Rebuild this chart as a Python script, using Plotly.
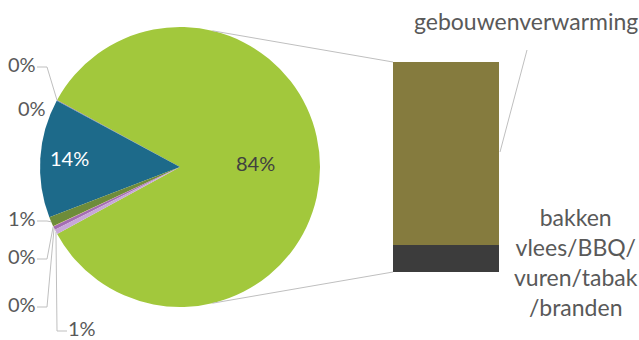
import math
import plotly.graph_objects as go

W, H = 639, 340

# ---- data ----
pie_labels = ["Overig", "bron A", "bron B", "bron C", "bron D", "bron E", "bron F", "bron G"]
small_values = [0.05, 0.05, 13.7, 1.1, 0.05, 0.4, 0.55]          # % of total
bar_labels = ["bakken vlees/BBQ/vuren/tabak/branden", "gebouwenverwarming"]
bar_values = [10.9, 73.2]                                        # parts of "Overig"
bar_text = ["bakken<br>vlees/BBQ/<br>vuren/tabak<br>/branden", "gebouwenverwarming"]

other = sum(bar_values)
pie_values = [other] + small_values
total = sum(pie_values)

pie_colors = ["#A2C83C", "#E07B39", "#4472C4", "#1D6A8A", "#6E8C3A",
              "#F0C040", "#A46CB2", "#C8A8D8"]
bar_colors = ["#3C3C3C", "#857B3E"]

# ---- layout constants (pixels) ----
CX, CY, R = 180, 167, 140
BAR_X0, BAR_X1, BAR_Y0, BAR_Y1 = 393, 499, 62, 272
TXT = "#595959"
LINE = "#BFBFBF"
FONT = "Lato"

def px(x):
    return x / W

def py(y):
    return 1 - y / H

spans = [360 * v / total for v in pie_values]
# the "Overig" slice (first) is centred towards the bar (3 o'clock)
rotation = 90 - spans[0] / 2

# slice mid angles (compass, clockwise from 12 o'clock)
mids = [rotation + spans[0] / 2]
a = rotation
for s in spans[1:]:
    mids.append(a - s / 2)
    a -= s

def edge(theta, f=1.0):
    t = math.radians(theta)
    return CX + f * R * math.sin(t), CY - f * R * math.cos(t)

pct = [f"{round(v / total * 100)}%" for v in pie_values]

fig = go.Figure()
fig.add_trace(go.Pie(
    labels=pie_labels, values=pie_values, sort=False,
    direction="counterclockwise", rotation=rotation,
    marker=dict(colors=pie_colors, line=dict(width=0)),
    textinfo="none", showlegend=False,
    domain=dict(x=[px(CX - R), px(CX + R)], y=[py(CY + R), py(CY - R)]),
))

for name, val, col in zip(bar_labels, bar_values, bar_colors):
    fig.add_trace(go.Bar(x=["Overig"], y=[val], name=name, marker=dict(color=col, line=dict(width=0)),
                         xaxis="x", yaxis="y", showlegend=False))

annotations = []
shapes = []

def ann(x, y, text, size, color):
    annotations.append(dict(x=px(x), y=py(y), text=text, showarrow=False,
                            xanchor="center", yanchor="middle",
                            font=dict(family=FONT, size=size, color=color),
                            xref="paper", yref="paper"))

# inside labels
x, y = edge(mids[3], 0.79)
ann(x, y - 2, pct[3], 20, "white")
x, y = edge(mids[0], 0.54)
ann(x, y - 4, pct[0], 20, "#404040")

# outside labels for small slices: (slice index, label x, label y, leader side)
small_pos = [(1, 22, 64, "r"), (2, 32, 108, None), (4, 22, 218, "r"),
             (5, 22, 256, "r"), (6, 22, 304, "r"), (7, 82, 328, "l")]
for idx, lx, ly, side in small_pos:
    ann(lx, ly, pct[idx], 20, TXT)
    if side is None:
        continue
    ex, ey = edge(mids[idx])
    if side == "r":
        x0, x1 = lx + 15, lx + 25
    else:
        x0, x1 = lx - 15, lx - 25
    yl = ly + 3
    shapes.append(dict(type="path", xref="paper", yref="paper",
                       path=f"M {px(x0)} {py(yl)} L {px(x1)} {py(yl)} L {px(ex)} {py(ey)}",
                       line=dict(color=LINE, width=1)))

# series lines pie -> bar
for th, by in [(13.4, BAR_Y0), (166.6, BAR_Y1)]:
    ex, ey = edge(th)
    shapes.append(dict(type="line", xref="paper", yref="paper",
                       x0=px(ex), y0=py(ey), x1=px(BAR_X0), y1=py(by),
                       line=dict(color=LINE, width=1)))

# bar category labels
ann(526, 21, bar_text[1], 23, TXT)
shapes.append(dict(type="line", xref="paper", yref="paper",
                   x0=px(527), y0=py(50), x1=px(500), y1=py(152),
                   line=dict(color=LINE, width=1)))
ann(576, 262, bar_text[0], 23, TXT)

fig.update_layout(
    width=W, height=H, margin=dict(l=0, r=0, t=0, b=0),
    paper_bgcolor="white", plot_bgcolor="white",
    barmode="stack", bargap=0,
    xaxis=dict(domain=[px(BAR_X0), px(BAR_X1)], visible=False, fixedrange=True),
    yaxis=dict(domain=[py(BAR_Y1), py(BAR_Y0)], range=[0, other], visible=False, fixedrange=True),
    annotations=annotations, shapes=shapes,
)

fig.write_html("out.html")
